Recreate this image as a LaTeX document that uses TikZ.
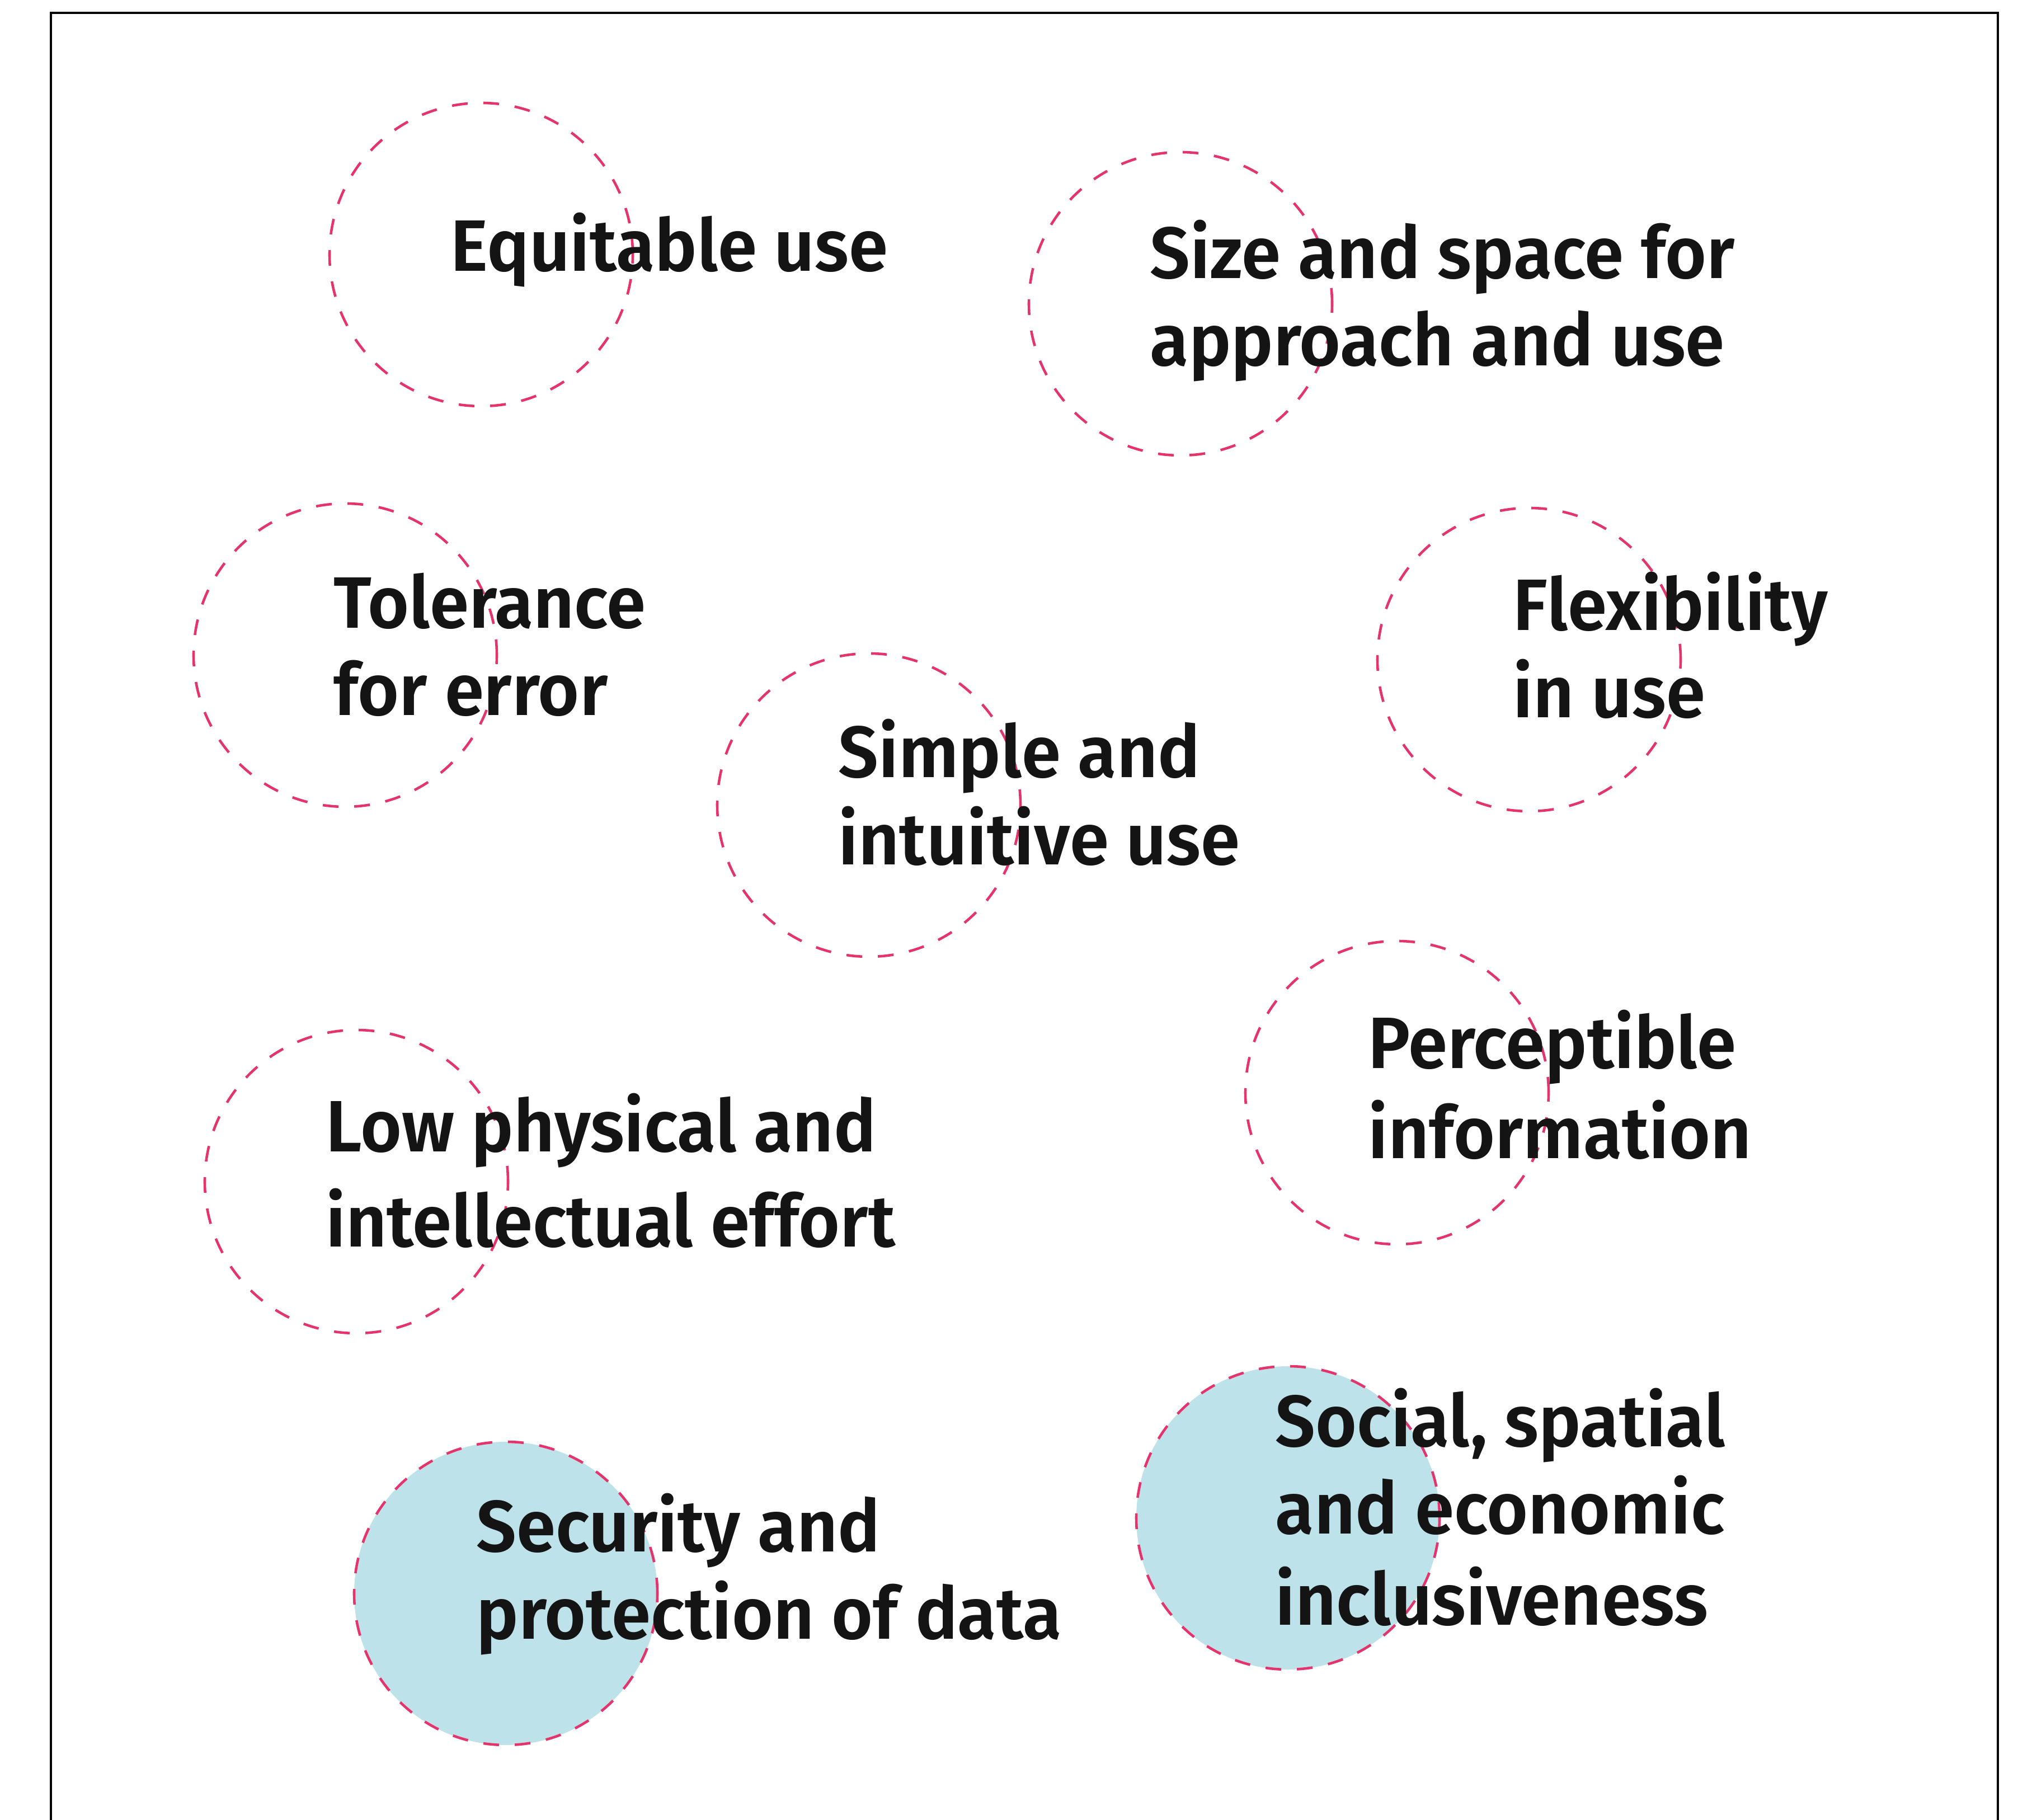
\documentclass[tikz,border=0pt]{standalone}
\usepackage{fontspec}
\setmainfont{Fira Sans}[UprightFont=* SemiBold, FakeStretch=0.975]
\definecolor{dashred}{HTML}{E5336B}
\definecolor{softblue}{HTML}{BEE2EA}
\definecolor{inkblack}{HTML}{141414}

\begin{document}
\begin{tikzpicture}[
	ring/.style={circle, draw=dashred, line width=1.3pt, dash pattern=on 8pt off 8pt, inner sep=0pt, minimum size=5.42cm},
	ringfill/.style={ring, fill=softblue},
	principle/.style={anchor=base west, align=left, inner sep=0pt, text=inkblack, font=\fontsize{37}{44.4}\selectfont}
	]
	\useasboundingbox (0,0) rectangle (36.07,32.53);
	
	% frame, open at the bottom
	\draw[line width=1pt] (0.91,0) -- (0.91,32.30) -- (35.71,32.30) -- (35.71,0);
	
	% circles
	\node[ring] (eq) at (8.60,27.98) {};
	\node[ring] (size) at (21.10,27.10) {};
	\node[ring] (tol) at (6.17,20.82) {};
	\node[ring] (flex) at (27.33,20.74) {};
	\node[ring] (simp) at (15.53,18.14) {};
	\node[ring] (perc) at (24.97,13.00) {};
	\node[ring] (low) at (6.37,11.41) {};
	\node[ringfill] (sec) at (9.04,4.05) {};
	\node[ringfill] (soc) at (23.02,5.40) {};
	
	% labels (placed on the baseline of their last line)
	\node[principle] (eqtext) at (8.05,27.68) {Equitable use};
	\node[principle] (sizetext) at (20.55,25.99) {Size and space for\\approach and use};
	\node[principle] (toltext) at (5.96,19.74) {Tolerance\\for error};
	\node[principle] (flextext) at (27.04,19.70) {Flexibility\\in use};
	\node[principle] (simptext) at (14.98,17.07) {Simple and\\intuitive use};
	\node[principle] (perctext) at (24.45,11.82) {Perceptible\\[0.05cm]information};
	\node[principle] (lowtext) at (5.82,10.24) {Low physical and\\[0.14cm]intellectual effort};
	\node[principle] (sectext) at (8.51,3.23) {Security and\\protection of data};
	\node[principle] (soctext) at (22.79,3.48) {Social, spatial\\and economic\\[0.07cm]inclusiveness};
\end{tikzpicture}
\end{document}
